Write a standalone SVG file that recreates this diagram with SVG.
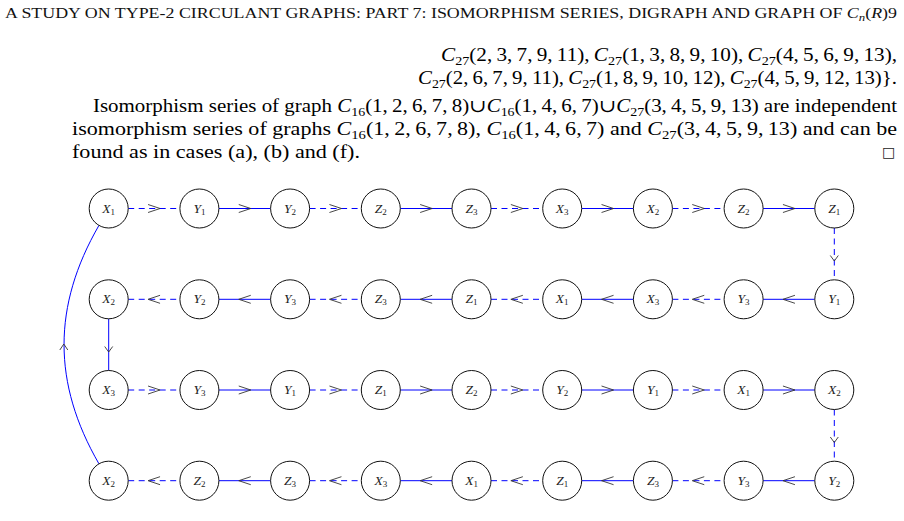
<svg xmlns="http://www.w3.org/2000/svg" width="904" height="521" viewBox="0 0 904 521">
<style>
.hd{font-family:"Liberation Serif","DejaVu Serif",serif;font-size:14px;fill:#111}
.tx{font-family:"Liberation Serif","DejaVu Serif",serif;font-size:18px;fill:#000}
.it{font-style:italic}
.nd circle{fill:#fff;stroke:#111;stroke-width:1}
.nd text{font-family:"Liberation Serif","DejaVu Serif",serif;font-size:13.5px;fill:#222;text-anchor:middle}
.sb{font-size:9px;font-style:normal}
.ed{stroke:#0000ff;stroke-width:1;fill:none}
.da{stroke-dasharray:6 4.5}
.ar{stroke:#333;stroke-width:0.9;fill:none}
</style>
<rect width="904" height="521" fill="#fff"/>
<text class="hd" x="5" y="18" textLength="892" lengthAdjust="spacingAndGlyphs">A STUDY ON TYPE-2 CIRCULANT GRAPHS: PART 7: ISOMORPHISM SERIES, DIGRAPH AND GRAPH OF <tspan class="it">C</tspan><tspan font-size="10" dy="3" class="it">n</tspan><tspan dy="-3">(</tspan><tspan class="it">R</tspan><tspan>)9</tspan></text>
<text class="tx" x="441" y="61" textLength="456" lengthAdjust="spacingAndGlyphs"><tspan class="it">C</tspan><tspan font-size="12" dy="4">27</tspan><tspan dy="-4">(2,&#8201;3,&#8201;7,&#8201;9,&#8201;11),&#8201;</tspan><tspan class="it">C</tspan><tspan font-size="12" dy="4">27</tspan><tspan dy="-4">(1,&#8201;3,&#8201;8,&#8201;9,&#8201;10),&#8201;</tspan><tspan class="it">C</tspan><tspan font-size="12" dy="4">27</tspan><tspan dy="-4">(4,&#8201;5,&#8201;6,&#8201;9,&#8201;13),</tspan></text>
<text class="tx" x="418" y="84" textLength="479" lengthAdjust="spacingAndGlyphs"><tspan class="it">C</tspan><tspan font-size="12" dy="4">27</tspan><tspan dy="-4">(2,&#8201;6,&#8201;7,&#8201;9,&#8201;11),&#8201;</tspan><tspan class="it">C</tspan><tspan font-size="12" dy="4">27</tspan><tspan dy="-4">(1,&#8201;8,&#8201;9,&#8201;10,&#8201;12),&#8201;</tspan><tspan class="it">C</tspan><tspan font-size="12" dy="4">27</tspan><tspan dy="-4">(4,&#8201;5,&#8201;9,&#8201;12,&#8201;13)}.</tspan></text>
<text class="tx" x="93" y="112" textLength="804" lengthAdjust="spacingAndGlyphs">Isomorphism series of graph <tspan class="it">C</tspan><tspan font-size="12" dy="4">16</tspan><tspan dy="-4">(1,&#8201;2,&#8201;6,&#8201;7,&#8201;8)∪</tspan><tspan class="it">C</tspan><tspan font-size="12" dy="4">16</tspan><tspan dy="-4">(1,&#8201;4,&#8201;6,&#8201;7)∪</tspan><tspan class="it">C</tspan><tspan font-size="12" dy="4">27</tspan><tspan dy="-4">(3,&#8201;4,&#8201;5,&#8201;9,&#8201;13) are independent</tspan></text>
<text class="tx" x="72" y="135" textLength="825" lengthAdjust="spacingAndGlyphs">isomorphism series of graphs <tspan class="it">C</tspan><tspan font-size="12" dy="4">16</tspan><tspan dy="-4">(1,&#8201;2,&#8201;6,&#8201;7,&#8201;8), </tspan><tspan class="it">C</tspan><tspan font-size="12" dy="4">16</tspan><tspan dy="-4">(1,&#8201;4,&#8201;6,&#8201;7) and </tspan><tspan class="it">C</tspan><tspan font-size="12" dy="4">27</tspan><tspan dy="-4">(3,&#8201;4,&#8201;5,&#8201;9,&#8201;13) and can be</tspan></text>
<text class="tx" x="72" y="158" textLength="288" lengthAdjust="spacingAndGlyphs">found as in cases (a), (b) and (f).</text>
<text x="882" y="157" font-family="DejaVu Sans, sans-serif" font-size="14" fill="#222">□</text>

<g id="connectors">
<line class="ed da" x1="128.2" y1="208.5" x2="179.9" y2="208.5"/>
<line class="ed" x1="218.9" y1="208.5" x2="270.6" y2="208.5"/>
<line class="ed da" x1="309.6" y1="208.5" x2="361.3" y2="208.5"/>
<line class="ed" x1="400.3" y1="208.5" x2="452" y2="208.5"/>
<line class="ed da" x1="491" y1="208.5" x2="542.7" y2="208.5"/>
<line class="ed" x1="581.7" y1="208.5" x2="633.4" y2="208.5"/>
<line class="ed da" x1="672.4" y1="208.5" x2="724.1" y2="208.5"/>
<line class="ed" x1="763.1" y1="208.5" x2="814.8" y2="208.5"/>
<path class="ar" d="M148.05,204.5L160.05,208.5L148.05,212.5M238.75,204.5L250.75,208.5L238.75,212.5M329.45,204.5L341.45,208.5L329.45,212.5M420.15,204.5L432.15,208.5L420.15,212.5M510.85,204.5L522.85,208.5L510.85,212.5M601.55,204.5L613.55,208.5L601.55,212.5M692.25,204.5L704.25,208.5L692.25,212.5M782.95,204.5L794.95,208.5L782.95,212.5"/>
<line class="ed da" x1="834.3" y1="228" x2="834.3" y2="279.8"/>
<path class="ar" d="M830.3,255.5L834.3,261L838.3,255.5"/>
<line class="ed da" x1="128.2" y1="299.3" x2="179.9" y2="299.3"/>
<line class="ed" x1="218.9" y1="299.3" x2="270.6" y2="299.3"/>
<line class="ed da" x1="309.6" y1="299.3" x2="361.3" y2="299.3"/>
<line class="ed" x1="400.3" y1="299.3" x2="452" y2="299.3"/>
<line class="ed da" x1="491" y1="299.3" x2="542.7" y2="299.3"/>
<line class="ed" x1="581.7" y1="299.3" x2="633.4" y2="299.3"/>
<line class="ed da" x1="672.4" y1="299.3" x2="724.1" y2="299.3"/>
<line class="ed" x1="763.1" y1="299.3" x2="814.8" y2="299.3"/>
<path class="ar" d="M160.05,295.3L148.05,299.3L160.05,303.3M250.75,295.3L238.75,299.3L250.75,303.3M341.45,295.3L329.45,299.3L341.45,303.3M432.15,295.3L420.15,299.3L432.15,303.3M522.85,295.3L510.85,299.3L522.85,303.3M613.55,295.3L601.55,299.3L613.55,303.3M704.25,295.3L692.25,299.3L704.25,303.3M794.95,295.3L782.95,299.3L794.95,303.3"/>
<line class="ed" x1="108.7" y1="318.8" x2="108.7" y2="370.5"/>
<path class="ar" d="M104.7,346.5L108.7,352L112.7,346.5"/>
<line class="ed da" x1="128.2" y1="390" x2="179.9" y2="390"/>
<line class="ed" x1="218.9" y1="390" x2="270.6" y2="390"/>
<line class="ed da" x1="309.6" y1="390" x2="361.3" y2="390"/>
<line class="ed" x1="400.3" y1="390" x2="452" y2="390"/>
<line class="ed da" x1="491" y1="390" x2="542.7" y2="390"/>
<line class="ed" x1="581.7" y1="390" x2="633.4" y2="390"/>
<line class="ed da" x1="672.4" y1="390" x2="724.1" y2="390"/>
<line class="ed" x1="763.1" y1="390" x2="814.8" y2="390"/>
<path class="ar" d="M148.05,386L160.05,390L148.05,394M238.75,386L250.75,390L238.75,394M329.45,386L341.45,390L329.45,394M420.15,386L432.15,390L420.15,394M510.85,386L522.85,390L510.85,394M601.55,386L613.55,390L601.55,394M692.25,386L704.25,390L692.25,394M782.95,386L794.95,390L782.95,394"/>
<line class="ed da" x1="834.3" y1="409.5" x2="834.3" y2="461.2"/>
<path class="ar" d="M830.3,437L834.3,442.5L838.3,437"/>
<line class="ed da" x1="128.2" y1="480.7" x2="179.9" y2="480.7"/>
<line class="ed" x1="218.9" y1="480.7" x2="270.6" y2="480.7"/>
<line class="ed da" x1="309.6" y1="480.7" x2="361.3" y2="480.7"/>
<line class="ed" x1="400.3" y1="480.7" x2="452" y2="480.7"/>
<line class="ed da" x1="491" y1="480.7" x2="542.7" y2="480.7"/>
<line class="ed" x1="581.7" y1="480.7" x2="633.4" y2="480.7"/>
<line class="ed da" x1="672.4" y1="480.7" x2="724.1" y2="480.7"/>
<line class="ed" x1="763.1" y1="480.7" x2="814.8" y2="480.7"/>
<path class="ar" d="M160.05,476.7L148.05,480.7L160.05,484.7M250.75,476.7L238.75,480.7L250.75,484.7M341.45,476.7L329.45,480.7L341.45,484.7M432.15,476.7L420.15,480.7L432.15,484.7M522.85,476.7L510.85,480.7L522.85,484.7M613.55,476.7L601.55,480.7L613.55,484.7M704.25,476.7L692.25,480.7L704.25,484.7M794.95,476.7L782.95,480.7L794.95,484.7"/>
<path class="ed" d="M98.95,463.8C52.4,383.3 52.4,305.9 98.95,225.4"/>
<path class="ar" d="M59.8,350L63.8,344L67.8,350"/>
</g>

<g id="r1c1" class="nd"><circle cx="108.7" cy="208.5" r="19.5"/><text x="108.7" y="212.5"><tspan class="it">X</tspan><tspan class="sb" dy="2">1</tspan></text></g>
<g id="r1c2" class="nd"><circle cx="199.4" cy="208.5" r="19.5"/><text x="199.4" y="212.5"><tspan class="it">Y</tspan><tspan class="sb" dy="2">1</tspan></text></g>
<g id="r1c3" class="nd"><circle cx="290.1" cy="208.5" r="19.5"/><text x="290.1" y="212.5"><tspan class="it">Y</tspan><tspan class="sb" dy="2">2</tspan></text></g>
<g id="r1c4" class="nd"><circle cx="380.8" cy="208.5" r="19.5"/><text x="380.8" y="212.5"><tspan class="it">Z</tspan><tspan class="sb" dy="2">2</tspan></text></g>
<g id="r1c5" class="nd"><circle cx="471.5" cy="208.5" r="19.5"/><text x="471.5" y="212.5"><tspan class="it">Z</tspan><tspan class="sb" dy="2">3</tspan></text></g>
<g id="r1c6" class="nd"><circle cx="562.2" cy="208.5" r="19.5"/><text x="562.2" y="212.5"><tspan class="it">X</tspan><tspan class="sb" dy="2">3</tspan></text></g>
<g id="r1c7" class="nd"><circle cx="652.9" cy="208.5" r="19.5"/><text x="652.9" y="212.5"><tspan class="it">X</tspan><tspan class="sb" dy="2">2</tspan></text></g>
<g id="r1c8" class="nd"><circle cx="743.6" cy="208.5" r="19.5"/><text x="743.6" y="212.5"><tspan class="it">Z</tspan><tspan class="sb" dy="2">2</tspan></text></g>
<g id="r1c9" class="nd"><circle cx="834.3" cy="208.5" r="19.5"/><text x="834.3" y="212.5"><tspan class="it">Z</tspan><tspan class="sb" dy="2">1</tspan></text></g>

<g id="r2c1" class="nd"><circle cx="108.7" cy="299.3" r="19.5"/><text x="108.7" y="303.3"><tspan class="it">X</tspan><tspan class="sb" dy="2">2</tspan></text></g>
<g id="r2c2" class="nd"><circle cx="199.4" cy="299.3" r="19.5"/><text x="199.4" y="303.3"><tspan class="it">Y</tspan><tspan class="sb" dy="2">2</tspan></text></g>
<g id="r2c3" class="nd"><circle cx="290.1" cy="299.3" r="19.5"/><text x="290.1" y="303.3"><tspan class="it">Y</tspan><tspan class="sb" dy="2">3</tspan></text></g>
<g id="r2c4" class="nd"><circle cx="380.8" cy="299.3" r="19.5"/><text x="380.8" y="303.3"><tspan class="it">Z</tspan><tspan class="sb" dy="2">3</tspan></text></g>
<g id="r2c5" class="nd"><circle cx="471.5" cy="299.3" r="19.5"/><text x="471.5" y="303.3"><tspan class="it">Z</tspan><tspan class="sb" dy="2">1</tspan></text></g>
<g id="r2c6" class="nd"><circle cx="562.2" cy="299.3" r="19.5"/><text x="562.2" y="303.3"><tspan class="it">X</tspan><tspan class="sb" dy="2">1</tspan></text></g>
<g id="r2c7" class="nd"><circle cx="652.9" cy="299.3" r="19.5"/><text x="652.9" y="303.3"><tspan class="it">X</tspan><tspan class="sb" dy="2">3</tspan></text></g>
<g id="r2c8" class="nd"><circle cx="743.6" cy="299.3" r="19.5"/><text x="743.6" y="303.3"><tspan class="it">Y</tspan><tspan class="sb" dy="2">3</tspan></text></g>
<g id="r2c9" class="nd"><circle cx="834.3" cy="299.3" r="19.5"/><text x="834.3" y="303.3"><tspan class="it">Y</tspan><tspan class="sb" dy="2">1</tspan></text></g>

<g id="r3c1" class="nd"><circle cx="108.7" cy="390" r="19.5"/><text x="108.7" y="394"><tspan class="it">X</tspan><tspan class="sb" dy="2">3</tspan></text></g>
<g id="r3c2" class="nd"><circle cx="199.4" cy="390" r="19.5"/><text x="199.4" y="394"><tspan class="it">Y</tspan><tspan class="sb" dy="2">3</tspan></text></g>
<g id="r3c3" class="nd"><circle cx="290.1" cy="390" r="19.5"/><text x="290.1" y="394"><tspan class="it">Y</tspan><tspan class="sb" dy="2">1</tspan></text></g>
<g id="r3c4" class="nd"><circle cx="380.8" cy="390" r="19.5"/><text x="380.8" y="394"><tspan class="it">Z</tspan><tspan class="sb" dy="2">1</tspan></text></g>
<g id="r3c5" class="nd"><circle cx="471.5" cy="390" r="19.5"/><text x="471.5" y="394"><tspan class="it">Z</tspan><tspan class="sb" dy="2">2</tspan></text></g>
<g id="r3c6" class="nd"><circle cx="562.2" cy="390" r="19.5"/><text x="562.2" y="394"><tspan class="it">Y</tspan><tspan class="sb" dy="2">2</tspan></text></g>
<g id="r3c7" class="nd"><circle cx="652.9" cy="390" r="19.5"/><text x="652.9" y="394"><tspan class="it">Y</tspan><tspan class="sb" dy="2">1</tspan></text></g>
<g id="r3c8" class="nd"><circle cx="743.6" cy="390" r="19.5"/><text x="743.6" y="394"><tspan class="it">X</tspan><tspan class="sb" dy="2">1</tspan></text></g>
<g id="r3c9" class="nd"><circle cx="834.3" cy="390" r="19.5"/><text x="834.3" y="394"><tspan class="it">X</tspan><tspan class="sb" dy="2">2</tspan></text></g>

<g id="r4c1" class="nd"><circle cx="108.7" cy="480.7" r="19.5"/><text x="108.7" y="484.7"><tspan class="it">X</tspan><tspan class="sb" dy="2">2</tspan></text></g>
<g id="r4c2" class="nd"><circle cx="199.4" cy="480.7" r="19.5"/><text x="199.4" y="484.7"><tspan class="it">Z</tspan><tspan class="sb" dy="2">2</tspan></text></g>
<g id="r4c3" class="nd"><circle cx="290.1" cy="480.7" r="19.5"/><text x="290.1" y="484.7"><tspan class="it">Z</tspan><tspan class="sb" dy="2">3</tspan></text></g>
<g id="r4c4" class="nd"><circle cx="380.8" cy="480.7" r="19.5"/><text x="380.8" y="484.7"><tspan class="it">X</tspan><tspan class="sb" dy="2">3</tspan></text></g>
<g id="r4c5" class="nd"><circle cx="471.5" cy="480.7" r="19.5"/><text x="471.5" y="484.7"><tspan class="it">X</tspan><tspan class="sb" dy="2">1</tspan></text></g>
<g id="r4c6" class="nd"><circle cx="562.2" cy="480.7" r="19.5"/><text x="562.2" y="484.7"><tspan class="it">Z</tspan><tspan class="sb" dy="2">1</tspan></text></g>
<g id="r4c7" class="nd"><circle cx="652.9" cy="480.7" r="19.5"/><text x="652.9" y="484.7"><tspan class="it">Z</tspan><tspan class="sb" dy="2">3</tspan></text></g>
<g id="r4c8" class="nd"><circle cx="743.6" cy="480.7" r="19.5"/><text x="743.6" y="484.7"><tspan class="it">Y</tspan><tspan class="sb" dy="2">3</tspan></text></g>
<g id="r4c9" class="nd"><circle cx="834.3" cy="480.7" r="19.5"/><text x="834.3" y="484.7"><tspan class="it">Y</tspan><tspan class="sb" dy="2">2</tspan></text></g>
</svg>
